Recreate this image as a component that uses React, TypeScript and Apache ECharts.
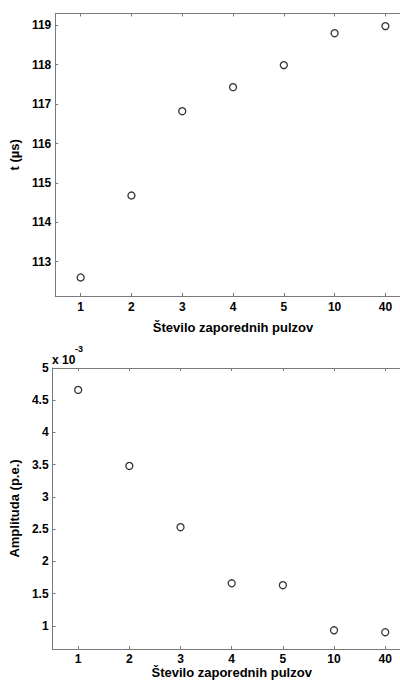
import React, { useEffect, useRef } from "react";
import * as echarts from "echarts";

// Categories: number of consecutive pulses
const pulseCounts = ["1", "2", "3", "4", "5", "10", "40"];
// Top plot: time t (µs)
const timeUs = [112.6, 114.68, 116.82, 117.43, 117.99, 118.8, 118.98];
// Bottom plot: amplitude (p.e.), in units of 10^-3
const amplitudeE3 = [4.66, 3.48, 2.53, 1.66, 1.63, 0.93, 0.9];

const FONT = "'Liberation Sans', Arial, sans-serif";
const AXIS_COLOR = "#7a7a7a";

export default function App() {
  const ref = useRef<HTMLDivElement>(null);

  useEffect(() => {
    if (!ref.current) return;
    const chart = echarts.init(ref.current, undefined, { renderer: "svg" });

    const gridW = 359.3;
    const labelStyle = { color: "#000", fontFamily: FONT, fontWeight: "bold" as const, fontSize: 12 };
    const nameStyle = { color: "#000", fontFamily: FONT, fontWeight: "bold" as const, fontSize: 13 };
    const axisLine = { show: true, lineStyle: { color: AXIS_COLOR, width: 1 } };
    const axisTick = { show: true, inside: true, length: 3, alignWithLabel: true, lineStyle: { color: AXIS_COLOR } };

    const xBottom = (gridIndex: number, margin: number, nameGap: number) => ({
      type: "category" as const,
      gridIndex,
      data: pulseCounts,
      position: "bottom" as const,
      boundaryGap: true,
      axisLine,
      axisTick,
      axisLabel: { ...labelStyle, margin },
      splitLine: { show: false },
      name: "Število zaporednih pulzov",
      nameLocation: "middle" as const,
      nameGap,
      nameTextStyle: nameStyle,
    });
    const xTop = (gridIndex: number) => ({
      type: "category" as const,
      gridIndex,
      data: pulseCounts,
      position: "top" as const,
      boundaryGap: true,
      axisLine,
      axisTick,
      axisLabel: { show: false },
      splitLine: { show: false },
    });

    const option: any = {
      animation: false,
      backgroundColor: "#fff",
      grid: [
        { left: 51.5, top: 13.5, width: gridW, height: 282.5, containLabel: false },
        { left: 51.5, top: 368, width: gridW, height: 282, containLabel: false },
      ],
      xAxis: [xBottom(0, 5, 25), xTop(0), xBottom(1, 4, 17), xTop(1)],
      yAxis: [
        {
          type: "value",
          gridIndex: 0,
          min: 112.13,
          max: 119.3,
          splitNumber: 7,
          axisLine,
          axisTick: { show: true, inside: true, length: 3, lineStyle: { color: AXIS_COLOR } },
          axisLabel: {
            ...labelStyle,
            margin: 4,
            showMinLabel: false,
            showMaxLabel: false,
            formatter: (v: number) => (Math.abs(v - Math.round(v)) < 1e-6 ? String(Math.round(v)) : ""),
          },
          splitLine: { show: false },
          name: "t (µs)",
          nameLocation: "middle",
          nameRotate: 90,
          nameGap: 26,
          nameTextStyle: nameStyle,
        },
        {
          type: "value",
          gridIndex: 1,
          min: 0.64,
          max: 5,
          splitNumber: 9,
          axisLine,
          axisTick: { show: true, inside: true, length: 3, lineStyle: { color: AXIS_COLOR } },
          axisLabel: {
            ...labelStyle,
            margin: 4,
            showMinLabel: false,
            formatter: (v: number) => {
              const k = Math.round(v * 2);
              if (Math.abs(v * 2 - k) > 1e-6) return "";
              return String(k / 2);
            },
          },
          splitLine: { show: false },
          name: "Amplituda (p.e.)",
          nameLocation: "middle",
          nameRotate: 90,
          nameGap: 21,
          nameTextStyle: nameStyle,
        },
      ],
      series: [
        {
          type: "scatter",
          xAxisIndex: 0,
          yAxisIndex: 0,
          data: timeUs,
          symbol: "circle",
          symbolSize: 7,
          itemStyle: { color: "rgba(255,255,255,0)", borderColor: "#000", borderWidth: 1.3 },
          emphasis: { disabled: true },
        },
        {
          type: "scatter",
          xAxisIndex: 2,
          yAxisIndex: 1,
          data: amplitudeE3,
          symbol: "circle",
          symbolSize: 7,
          itemStyle: { color: "rgba(255,255,255,0)", borderColor: "#000", borderWidth: 1.3 },
          emphasis: { disabled: true },
        },
      ],
      graphic: [
        {
          type: "text",
          left: 52,
          top: 354,
          style: { text: "x 10", fill: "#000", font: `bold 12px ${FONT}` },
        },
        {
          type: "text",
          left: 75,
          top: 344,
          style: { text: "-3", fill: "#000", font: `bold 9px ${FONT}` },
        },
      ],
    };

    chart.setOption(option);
    return () => chart.dispose();
  }, []);

  return (
    <div style={{ position: "absolute", left: 0, top: 0, width: 400, height: 680, overflow: "hidden", background: "#fff" }}>
      <div ref={ref} style={{ width: 420, height: 680 }} />
    </div>
  );
}
